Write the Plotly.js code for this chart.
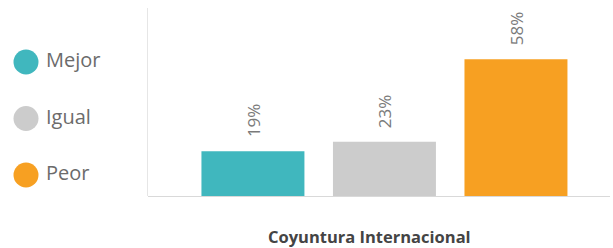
<!DOCTYPE html>
<html>
<head>
<meta charset="utf-8">
<script src="https://cdn.plot.ly/plotly-3.0.1.min.js"></script>
<style>
html,body{margin:0;padding:0;background:#fff;}
#chart{width:613px;height:248px;}
</style>
</head>
<body>
<div id="chart"></div>
<script>
const categories = ["Mejor", "Igual", "Peor"];
const values = [19, 23, 58];
const valueLabels = ["19%", "23%", "58%"];
const colors = ["#40B7BE", "#CCCCCC", "#F7A022"];
const axisTitle = "Coyuntura Internacional";
const legendIndex = [0, 1, 2];

const barTrace = {
  type: "bar",
  x: categories,
  y: values,
  marker: {color: colors},
  hoverinfo: "none",
  showlegend: false,
  xaxis: "x",
  yaxis: "y"
};

const legendTrace = {
  type: "scatter",
  mode: "markers+text",
  x: legendIndex.map(() => 26),
  y: legendIndex,
  text: categories.map(c => "\u2009" + c),
  textposition: "middle right",
  textfont: {family: "Open Sans, Noto Sans, sans-serif", size: 20, color: "#6b6b6b"},
  marker: {color: colors, size: 25, line: {width: 0}},
  hoverinfo: "none",
  showlegend: false,
  cliponaxis: false,
  xaxis: "x2",
  yaxis: "y2"
};

const annotations = categories.map((c, i) => ({
  x: c, y: values[i], xref: "x", yref: "y",
  text: valueLabels[i], textangle: -90,
  showarrow: false, yanchor: "bottom", xanchor: "center",
  yshift: 12,
  font: {family: "Open Sans, Noto Sans, sans-serif", size: 17, color: "#7a7a7a"}
}));

annotations.push({
  x: 0.605, y: -0.218, xref: "paper", yref: "paper",
  xanchor: "center", yanchor: "middle", showarrow: false,
  text: "<b>" + axisTitle + "</b>",
  font: {family: "Open Sans, Noto Sans, sans-serif", size: 16.5, color: "#444444"}
});

const layout = {
  width: 613, height: 248,
  margin: {l: 0, r: 3, t: 8, b: 52},
  paper_bgcolor: "#ffffff",
  plot_bgcolor: "#ffffff",
  bargap: 0.217,
  xaxis: {
    domain: [0.2426, 1],
    range: [-0.798, 2.715],
    showticklabels: false,
    ticks: "",
    showgrid: false,
    zeroline: false,
    showline: false
  },
  yaxis: {
    range: [0, 79.7],
    showticklabels: false,
    ticks: "",
    showgrid: false,
    zeroline: true,
    zerolinecolor: "#d9d9d9",
    zerolinewidth: 1,
    showline: true,
    linecolor: "#e6e6e6",
    linewidth: 1
  },
  xaxis2: {
    domain: [0, 0.2426],
    range: [0, 148],
    visible: false,
    fixedrange: true
  },
  yaxis2: {
    domain: [0, 1],
    range: [2.372, -0.956],
    visible: false,
    anchor: "x2",
    fixedrange: true
  },
  annotations: annotations,
  font: {family: "Open Sans, Noto Sans, sans-serif"}
};

Plotly.newPlot("chart", [barTrace, legendTrace], layout, {displayModeBar: false, staticPlot: true});
</script>
</body>
</html>
